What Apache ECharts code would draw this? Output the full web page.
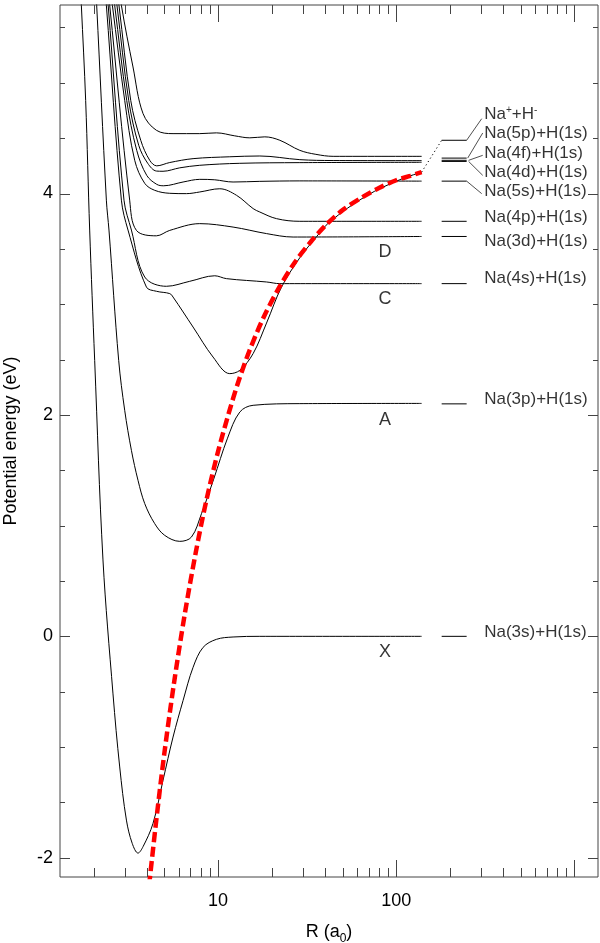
<!DOCTYPE html>
<html><head><meta charset="utf-8">
<script src="https://cdn.jsdelivr.net/npm/echarts@6/dist/echarts.min.js"></script>
<style>html,body{margin:0;padding:0;background:#fff}#c{width:600px;height:943px}</style>
</head><body><div id="c"></div>
<script>
// ---- data: R in bohr (a0), energy in eV ----
const curveX  = [[1.665,6.10],[1.708,5.70],[1.806,4.84],[1.902,3.67],[2.029,2.493],[2.259,0.69],[2.571,-0.52],[2.804,-1.18],[3.058,-1.66],[3.296,-1.87],[3.553,-1.958],[3.791,-1.90],[4.313,-1.69],[4.909,-1.30],[5.587,-0.91],[6.361,-0.58],[7.238,-0.28],[8.236,-0.10],[9.795,-0.027],[12.14,-0.006],[17.15,0],[138.9,0]];
const curveA  = [[2.019,6.10],[2.082,5.70],[2.36,3.94],[2.441,3.67],[2.767,2.493],[2.991,2.042],[3.262,1.68],[3.553,1.409],[3.875,1.199],[4.409,1.018],[5.018,0.912],[6.093,0.858],[7.09,0.897],[8.07,1.108],[9.45,1.42],[11.3,1.79],[13.24,2.026],[15.73,2.087],[28.77,2.102],[138.9,2.104]];
const curveC  = [[2.259,6.10],[2.36,5.70],[2.866,3.94],[3.122,3.67],[3.961,3.155],[4.508,3.117],[5.355,3.096],[5.587,3.065],[7.238,2.794],[9.373,2.523],[11.63,2.373],[13.24,2.403],[15.73,2.554],[18.71,2.83],[22.71,3.155],[28.77,3.42],[35.72,3.61],[42.41,3.745],[68.2,3.98],[104.9,4.125],[138.9,4.193]];
const curve4s = [[2.306,6.10],[2.416,5.70],[2.964,3.94],[3.262,3.67],[3.875,3.246],[5.13,3.162],[6.934,3.207],[9.583,3.257],[11.15,3.231],[18.71,3.201],[22.22,3.186],[138.9,3.186]];
const curve3d = [[2.324,6.10],[2.464,5.70],[3.19,3.94],[3.48,3.667],[4.508,3.618],[5.355,3.667],[7.89,3.728],[12.14,3.697],[18.71,3.638],[26.38,3.607],[138.9,3.612]];
const curve4p = [[2.373,6.10],[2.551,5.70],[2.991,4.842],[3.404,4.30],[3.875,4.092],[4.409,4.029],[5.355,4.002],[6.646,3.999],[7.89,4.014],[10.22,4.043],[12.69,3.984],[15.73,3.864],[17.15,3.833],[21.29,3.773],[28.77,3.749],[138.9,3.749]];
const curve5s = [[2.441,6.10],[2.628,5.70],[3.07,4.842],[3.494,4.39],[3.976,4.164],[4.525,4.083],[4.954,4.07],[6.361,4.104],[7.89,4.128],[9.583,4.124],[12.14,4.104],[17.15,4.11],[28.77,4.114],[138.9,4.112]];
const curve4d = [[2.515,6.10],[2.707,5.70],[3.15,4.842],[3.585,4.436],[4.028,4.273],[4.508,4.203],[4.909,4.201],[6.093,4.232],[7.89,4.255],[13.24,4.273],[28.77,4.279],[138.9,4.282]];
const curve4f = [[2.581,6.10],[2.778,5.70],[3.233,4.842],[3.68,4.481],[4.134,4.30],[4.525,4.25],[5.355,4.28],[7.238,4.315],[11.63,4.332],[17.15,4.339],[28.77,4.306],[44.27,4.298],[138.9,4.297]];
const curve5p = [[2.66,6.10],[2.866,5.70],[3.33,5.143],[3.791,4.722],[4.508,4.571],[5.587,4.541],[7.89,4.541],[9.795,4.548],[12.41,4.521],[15.07,4.503],[18.30,4.512],[22.22,4.481],[28.77,4.39],[35.40,4.354],[44.27,4.336],[138.9,4.336]];
const ionicCurve = [[4.10,-2.25],[4.5,-1.66],[5.0,-1.05],[5.66,-0.42],[6.5,0.20],[7.5,0.76],[8.6,1.23],[10,1.67],[11.5,2.02],[13,2.30],[15,2.58],[18,2.88],[22,3.15],[27,3.38],[33,3.56],[40,3.71],[50,3.85],[65,3.97],[80,4.05],[100,4.12],[120,4.16],[138.9,4.193]];
const dottedLink = [[138.9,4.193],[180,4.481]];

// asymptotic levels (short lines at right)
const levelE = [0, 2.10, 3.186, 3.612, 3.749, 4.112, 4.29, 4.30, 4.32, 4.481];
const levelRange = [180, 248.6];

// leader lines from short lines to labels
const leaderStart = [[248.6,4.481],[252,4.32],[255,4.30],[255,4.29],[248.6,4.112]];
const leaderEnd   = [[302,4.676],[306,4.547],[306,4.345],[306,4.164],[302,3.999]];

// asymptote labels
const labelTexts = ['Na{s|+}+H{s|-}','Na(5p)+H(1s)','Na(4f)+H(1s)','Na(4d)+H(1s)','Na(5s)+H(1s)','Na(4p)+H(1s)','Na(3d)+H(1s)','Na(4s)+H(1s)','Na(3p)+H(1s)','Na(3s)+H(1s)'];
const labelE = [4.72, 4.541, 4.366, 4.194, 4.023, 3.788, 3.571, 3.231, 2.138, 0.039];
const labelR = 312;

// state letters
const stateNames = ['D','C','A','X'];
const stateE = [3.472, 3.044, 1.957, -0.142];
const stateR = 86.4;

// axes
const xRange = [1.296, 1358];
const yRange = [-2.174, 5.703];
const xTickLabels = [10, 100];
const yTickLabels = [-2, 0, 2, 4];
const xMajorTicks = [10, 100, 1000];
const xMinorTicks = [2,3,4,5,6,7,8,9,20,30,40,50,60,70,80,90,200,300,400,500,600,700,800,900];
const yMajorTicks = [-2, 0, 2, 4];
const yMinorTicks = [-1.5,-1,-0.5,0.5,1,1.5,2.5,3,3.5,4.5,5,5.5];

// ---- chart ----
const FONT = '"Liberation Sans", Arial, Helvetica, sans-serif';
const AX = '#444';
const chart = echarts.init(document.getElementById('c'), null, {renderer:'canvas'});

function blackLine(data){
  return {type:'line', data, showSymbol:false, symbol:'none', smooth:0.35, silent:true, z:2,
    lineStyle:{color:'#000', width:1}};
}
function tickSeries(values, isX, len){
  return {
    type:'custom', silent:true, z:6, clip:false,
    data: values.map(v => isX ? [v, 0] : [10, v]),
    renderItem: (params, api) => {
      const cs = params.coordSys;
      const p = api.coord([api.value(0), api.value(1)]);
      const st = {stroke:AX, lineWidth:1};
      if (isX) {
        const x = Math.round(p[0]) + 0.5;
        const yb = cs.y + cs.height, yt = cs.y;
        return {type:'group', children:[
          {type:'line', shape:{x1:x, y1:yb, x2:x, y2:yb-len}, style:st},
          {type:'line', shape:{x1:x, y1:yt, x2:x, y2:yt+len}, style:st}
        ]};
      } else {
        const y = Math.round(p[1]) + 0.5;
        const xl = cs.x, xr = cs.x + cs.width;
        return {type:'group', children:[
          {type:'line', shape:{x1:xl, y1:y, x2:xl+len, y2:y}, style:st},
          {type:'line', shape:{x1:xr, y1:y, x2:xr-len, y2:y}, style:st}
        ]};
      }
    }
  };
}

const curves = [curveX, curveA, curveC, curve4s, curve3d, curve4p, curve5s, curve4d, curve4f, curve5p];
const series = [];
curves.forEach(c => series.push(blackLine(c)));
levelE.forEach(e => series.push({type:'line', data:[[levelRange[0], e],[levelRange[1], e]], symbol:'none', silent:true, z:2, lineStyle:{color:'#000', width:1}}));
leaderStart.forEach((s, i) => series.push({type:'line', data:[s, leaderEnd[i]], symbol:'none', silent:true, z:2, lineStyle:{color:'#222', width:0.8}}));
series.push({type:'line', data:dottedLink, symbol:'none', silent:true, z:3, lineStyle:{color:'#000', width:1, type:[1.2,2.8]}});
series.push({type:'line', data:ionicCurve, symbol:'none', smooth:0.3, silent:true, z:4, lineStyle:{color:'#ff0000', width:4.5, type:[10,4.5], cap:'butt'}});
series.push({type:'scatter', symbolSize:0, silent:true, z:7,
  data: labelTexts.map((t, i) => ({value:[labelR, labelE[i]], name:t})),
  label:{show:true, position:'right', distance:0, color:'#000', fontSize:17, fontFamily:FONT,
    formatter:p => p.name,
    rich:{s:{fontSize:10, fontFamily:FONT, color:'#000', verticalAlign:'top'}}}
});
series.push({type:'scatter', symbolSize:0, silent:true, z:7,
  data: stateNames.map((t, i) => ({value:[stateR, stateE[i]], name:t})),
  label:{show:true, position:'inside', color:'#000', fontSize:18, fontFamily:FONT, formatter:p => p.name}
});
series.push(tickSeries(xMajorTicks, true, 17));
series.push(tickSeries(xMinorTicks, true, 9));
series.push(tickSeries(yMajorTicks, false, 10));
series.push(tickSeries(yMinorTicks, false, 5));

chart.setOption({
  animation:false,
  backgroundColor:'#fff',
  grid:{left:60, right:2, top:5, bottom:66, outerBoundsMode:'none', containLabel:false,
    show:true, borderColor:AX, borderWidth:1, backgroundColor:'transparent'},
  xAxis:{type:'log', logBase:10, min:xRange[0], max:xRange[1],
    axisLine:{show:false}, axisTick:{show:false}, splitLine:{show:false}, minorTick:{show:false},
    axisLabel:{margin:15, fontSize:18, color:'#000', fontFamily:FONT, showMinLabel:false, showMaxLabel:false,
      formatter:v => { const t = xTickLabels.find(t => Math.abs(t - v) / t < 1e-6); return t === undefined ? '' : String(t); }},
    name:'R (a{sub|0})', nameLocation:'middle', nameGap:42,
    nameTextStyle:{fontSize:18, lineHeight:26, color:'#000', fontFamily:FONT,
      rich:{sub:{fontSize:12, lineHeight:12, color:'#000', fontFamily:FONT, verticalAlign:'bottom'}}}
  },
  yAxis:{type:'value', min:yRange[0], max:yRange[1],
    axisLine:{show:false}, axisTick:{show:false}, splitLine:{show:false},
    axisLabel:{customValues:yTickLabels, margin:7, fontSize:18, color:'#000', fontFamily:FONT},
    name:'Potential energy (eV)', nameLocation:'middle', nameGap:40,
    nameTextStyle:{fontSize:18, color:'#000', fontFamily:FONT}
  },
  series
});
</script>
</body></html>
